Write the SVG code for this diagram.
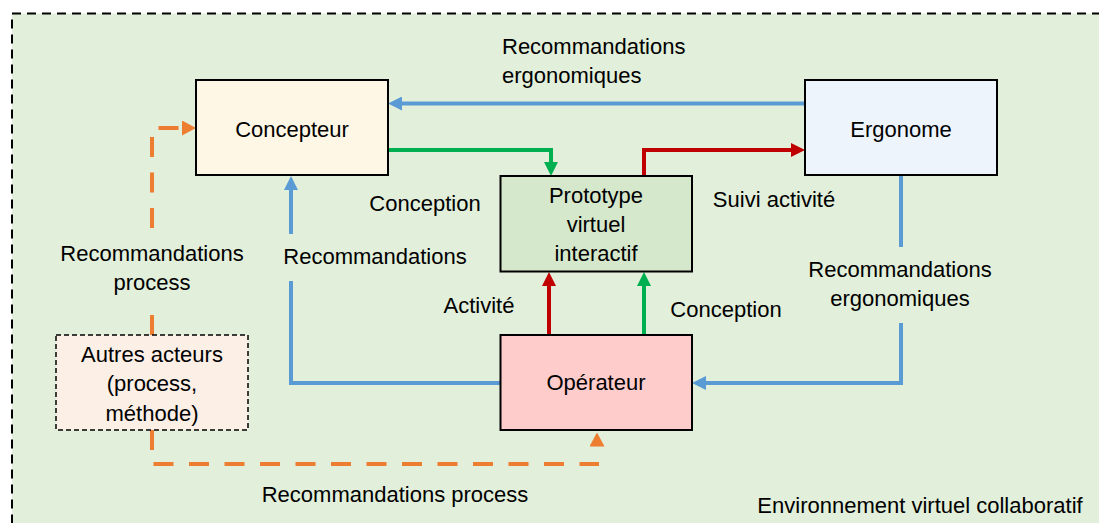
<svg xmlns="http://www.w3.org/2000/svg" width="1099" height="523" viewBox="0 0 1099 523">
<style>
  text { font-family: "Liberation Sans", Arial, sans-serif; font-size: 22px; fill: #000; text-anchor: middle; }
  .box { stroke: #000; stroke-width: 2; }
  .blue { fill: none; stroke: #5B9BD5; stroke-width: 4; }
  .green { fill: none; stroke: #00B050; stroke-width: 4; }
  .red { fill: none; stroke: #C00000; stroke-width: 4; }
  .orange { fill: none; stroke: #ED7D31; stroke-width: 4; stroke-dasharray: 20 15.5; }
</style>
<defs>
  <marker id="aBlue" viewBox="0 -7 14 14" refX="0" refY="0" markerWidth="14" markerHeight="14" markerUnits="userSpaceOnUse" orient="auto"><path d="M0,-7 L14,0 L0,7 z" fill="#5B9BD5"/></marker>
  <marker id="aGreen" viewBox="0 -7 14 14" refX="0" refY="0" markerWidth="14" markerHeight="14" markerUnits="userSpaceOnUse" orient="auto"><path d="M0,-7 L14,0 L0,7 z" fill="#00B050"/></marker>
  <marker id="aRed" viewBox="0 -7 14 14" refX="0" refY="0" markerWidth="14" markerHeight="14" markerUnits="userSpaceOnUse" orient="auto"><path d="M0,-7 L14,0 L0,7 z" fill="#C00000"/></marker>
  <marker id="aOrange" viewBox="0 -7.5 14 15" refX="0" refY="0" markerWidth="14" markerHeight="15" markerUnits="userSpaceOnUse" orient="auto"><path d="M0,-7.5 L14,0 L0,7.5 z" fill="#ED7D31"/></marker>
</defs>
<rect x="0" y="0" width="1099" height="523" fill="#FFFFFF"/>
<g id="environnement">
  <rect x="12" y="13.5" width="1100" height="520" fill="#E2EFDA" stroke="#000" stroke-width="2" stroke-dasharray="9 6"/>
  <text x="920" y="513">Environnement virtuel collaboratif</text>
</g>
<g id="connectors">
  <path class="blue" d="M805,103.5 H402" marker-end="url(#aBlue)"/>
  <path class="green" d="M388,150 H551 V162" marker-end="url(#aGreen)"/>
  <path class="red" d="M644,176 V150 H791" marker-end="url(#aRed)"/>
  <path class="red" d="M549,335 V286" marker-end="url(#aRed)"/>
  <path class="green" d="M644,335 V286" marker-end="url(#aGreen)"/>
  <path class="blue" d="M500,383 H291 V281"/>
  <path class="blue" d="M291,234 V190" marker-end="url(#aBlue)"/>
  <path class="blue" d="M901,175 V247"/>
  <path class="blue" d="M901,323 V383 H706" marker-end="url(#aBlue)"/>
  <path class="orange" d="M152,335 V315"/>
  <path class="orange" d="M152,228 V128 H182" marker-end="url(#aOrange)"/>
  <path class="orange" d="M152,430 V464 H599"/>
  <path d="M597,464 V446.5" fill="none" stroke="none" marker-end="url(#aOrange)"/>
  <text x="502" y="54" style="text-anchor:start">Recommandations</text>
  <text x="502" y="83" style="text-anchor:start">ergonomiques</text>
  <text x="425" y="211">Conception</text>
  <text x="774" y="207">Suivi activité</text>
  <text x="375" y="264">Recommandations</text>
  <text x="152" y="261">Recommandations</text>
  <text x="152" y="290">process</text>
  <text x="900" y="277">Recommandations</text>
  <text x="900" y="306">ergonomiques</text>
  <text x="479" y="313">Activité</text>
  <text x="726" y="317">Conception</text>
  <text x="395" y="502">Recommandations process</text>
</g>
<g id="concepteur">
  <rect class="box" x="196" y="80" width="192" height="95" fill="#FFF7E5"/>
  <text x="292" y="137">Concepteur</text>
</g>
<g id="ergonome">
  <rect class="box" x="805" y="80" width="192" height="95" fill="#EDF4FB"/>
  <text x="901" y="137">Ergonome</text>
</g>
<g id="prototype">
  <rect class="box" x="500.5" y="176" width="191.5" height="95.5" fill="#D5E8CB"/>
  <text x="596" y="203">Prototype</text>
  <text x="596" y="232">virtuel</text>
  <text x="596" y="261">interactif</text>
</g>
<g id="operateur">
  <rect class="box" x="500.5" y="335" width="191.5" height="95" fill="#FFCCCC"/>
  <text x="596" y="390">Opérateur</text>
</g>
<g id="autres">
  <rect x="56" y="335" width="192" height="95" fill="#FBEFE6" stroke="#000" stroke-width="1.5" stroke-dasharray="5 3"/>
  <text x="152" y="362">Autres acteurs</text>
  <text x="152" y="391">(process,</text>
  <text x="152" y="421">méthode)</text>
</g>
</svg>
